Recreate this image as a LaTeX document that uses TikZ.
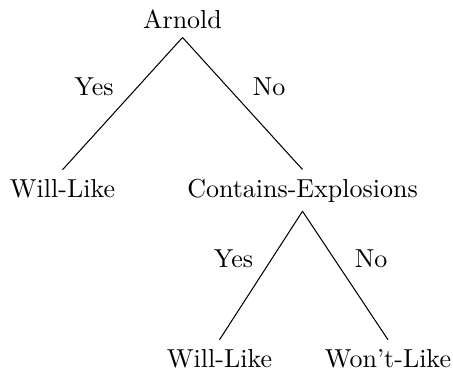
\documentclass[tikz,border=0pt]{standalone}
\begin{document}
\begin{tikzpicture}[x=0.3846pt, y=-0.3846pt,
  treenode/.style={anchor=base},
  edgelabel/.style={anchor=base},
  branch/.style={draw, line width=0.4pt}]
\useasboundingbox (0,0) rectangle (453,373);
% decision nodes and leaves
\node[treenode] (arnold) at (182.5,28) {Arnold};
\node[treenode] (like1) at (62.5,197) {Will-Like};
\node[treenode] (expl) at (302.5,197) {Contains-Explosions};
\node[treenode] (like2) at (219.5,367) {Will-Like};
\node[treenode] (nolike) at (388,367) {Won't-Like};
% branches
\draw[branch] (arnold.south) -- (like1.north);
\draw[branch] (arnold.south) -- (expl.north);
\draw[branch] (expl.south) -- (like2.north);
\draw[branch] (expl.south) -- (nolike.north);
% branch labels
\node[edgelabel] (y1) at (94,95) {Yes};
\node[edgelabel] (n1) at (269,95) {No};
\node[edgelabel] (y2) at (233.5,267) {Yes};
\node[edgelabel] (n2) at (371,267) {No};
\end{tikzpicture}
\end{document}
